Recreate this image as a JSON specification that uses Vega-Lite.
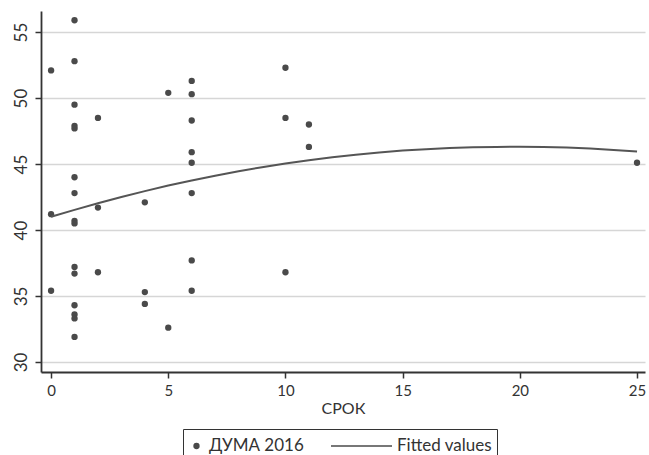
{
  "$schema": "https://vega.github.io/schema/vega-lite/v6.json",
  "autosize": "none",
  "width": 604,
  "height": 361,
  "padding": {"left": 41, "top": 11, "right": 4, "bottom": 83},
  "background": "white",
  "config": {
    "font": "Lato",
    "view": {"stroke": null},
    "axis": {"labelColor": "#333333", "titleColor": "#333333", "titleFontWeight": "normal", "domainColor": "#333333", "tickColor": "#333333", "domainWidth": 1.8, "tickWidth": 1.5, "tickSize": 6}
  },
  "layer": [
    {
      "data": {"values": [
        {"srok": 0, "duma": 52.1, "series": "ДУМА 2016"},
        {"srok": 0, "duma": 41.2, "series": "ДУМА 2016"},
        {"srok": 0, "duma": 35.4, "series": "ДУМА 2016"},
        {"srok": 1, "duma": 55.9, "series": "ДУМА 2016"},
        {"srok": 1, "duma": 52.8, "series": "ДУМА 2016"},
        {"srok": 1, "duma": 49.5, "series": "ДУМА 2016"},
        {"srok": 1, "duma": 47.9, "series": "ДУМА 2016"},
        {"srok": 1, "duma": 47.7, "series": "ДУМА 2016"},
        {"srok": 1, "duma": 44.0, "series": "ДУМА 2016"},
        {"srok": 1, "duma": 42.8, "series": "ДУМА 2016"},
        {"srok": 1, "duma": 40.7, "series": "ДУМА 2016"},
        {"srok": 1, "duma": 40.5, "series": "ДУМА 2016"},
        {"srok": 1, "duma": 37.2, "series": "ДУМА 2016"},
        {"srok": 1, "duma": 36.7, "series": "ДУМА 2016"},
        {"srok": 1, "duma": 34.3, "series": "ДУМА 2016"},
        {"srok": 1, "duma": 33.6, "series": "ДУМА 2016"},
        {"srok": 1, "duma": 33.3, "series": "ДУМА 2016"},
        {"srok": 1, "duma": 31.9, "series": "ДУМА 2016"},
        {"srok": 2, "duma": 48.5, "series": "ДУМА 2016"},
        {"srok": 2, "duma": 41.7, "series": "ДУМА 2016"},
        {"srok": 2, "duma": 36.8, "series": "ДУМА 2016"},
        {"srok": 4, "duma": 42.1, "series": "ДУМА 2016"},
        {"srok": 4, "duma": 35.3, "series": "ДУМА 2016"},
        {"srok": 4, "duma": 34.4, "series": "ДУМА 2016"},
        {"srok": 5, "duma": 50.4, "series": "ДУМА 2016"},
        {"srok": 5, "duma": 32.6, "series": "ДУМА 2016"},
        {"srok": 6, "duma": 51.3, "series": "ДУМА 2016"},
        {"srok": 6, "duma": 50.3, "series": "ДУМА 2016"},
        {"srok": 6, "duma": 48.3, "series": "ДУМА 2016"},
        {"srok": 6, "duma": 45.9, "series": "ДУМА 2016"},
        {"srok": 6, "duma": 45.1, "series": "ДУМА 2016"},
        {"srok": 6, "duma": 42.8, "series": "ДУМА 2016"},
        {"srok": 6, "duma": 37.7, "series": "ДУМА 2016"},
        {"srok": 6, "duma": 35.4, "series": "ДУМА 2016"},
        {"srok": 10, "duma": 52.3, "series": "ДУМА 2016"},
        {"srok": 10, "duma": 48.5, "series": "ДУМА 2016"},
        {"srok": 10, "duma": 36.8, "series": "ДУМА 2016"},
        {"srok": 11, "duma": 48.0, "series": "ДУМА 2016"},
        {"srok": 11, "duma": 46.3, "series": "ДУМА 2016"},
        {"srok": 25, "duma": 45.1, "series": "ДУМА 2016"}
      ]},
      "mark": {"type": "point", "filled": true, "opacity": 1, "color": "#4a4a4a"},
      "encoding": {
        "x": {"field": "srok", "type": "quantitative", "scale": {"domain": [-0.43, 25.34], "nice": false, "zero": false},
              "axis": {"values": [0, 5, 10, 15, 20, 25], "title": "СРОК", "grid": false, "labelFontSize": 15, "titleFontSize": 16, "labelPadding": 5, "titlePadding": 2}},
        "y": {"field": "duma", "type": "quantitative", "scale": {"domain": [29.24, 56.6], "nice": false, "zero": false},
              "axis": {"values": [30, 35, 40, 45, 50, 55], "title": null, "grid": true, "gridColor": "#d6d6d6", "gridWidth": 1.5, "labelAngle": -90, "labelAlign": "center", "labelBaseline": "bottom", "labelFontSize": 17, "labelPadding": 5}},
        "shape": {"field": "series", "type": "nominal", "scale": {"domain": ["ДУМА 2016", "Fitted values"], "range": ["circle", "M-1,-0.022L1,-0.022L1,0.022L-1,0.022Z"]},
                  "legend": {"title": null, "orient": "none", "legendX": 142, "legendY": 418, "direction": "horizontal", "strokeColor": "#333333", "padding": 5, "labelFontSize": 17, "labelColor": "#333333", "labelOffset": 4, "columnPadding": 26, "clipHeight": 24,
                             "encode": {"symbols": {"update": {"fill": {"value": "#4a4a4a"}, "opacity": {"value": 1}}}}}},
        "size": {"field": "series", "type": "nominal", "scale": {"type": "ordinal", "domain": ["ДУМА 2016", "Fitted values"], "range": [40, 3721]}, "legend": {"title": null}}
      }
    },
    {
      "data": {"values": [
        {"srok": 0, "fit": 41.00}, {"srok": 1, "fit": 41.53}, {"srok": 2, "fit": 42.03}, {"srok": 3, "fit": 42.51},
        {"srok": 4, "fit": 42.95}, {"srok": 5, "fit": 43.37}, {"srok": 6, "fit": 43.76}, {"srok": 7, "fit": 44.12},
        {"srok": 8, "fit": 44.46}, {"srok": 9, "fit": 44.76}, {"srok": 10, "fit": 45.04}, {"srok": 11, "fit": 45.29},
        {"srok": 12, "fit": 45.52}, {"srok": 13, "fit": 45.71}, {"srok": 14, "fit": 45.88}, {"srok": 15, "fit": 46.02},
        {"srok": 16, "fit": 46.13}, {"srok": 17, "fit": 46.21}, {"srok": 18, "fit": 46.27}, {"srok": 19, "fit": 46.30},
        {"srok": 20, "fit": 46.32}, {"srok": 21, "fit": 46.30}, {"srok": 22, "fit": 46.25}, {"srok": 23, "fit": 46.17},
        {"srok": 24, "fit": 46.07}, {"srok": 25, "fit": 45.95}
      ]},
      "mark": {"type": "line", "color": "#555555", "strokeWidth": 2},
      "encoding": {
        "x": {"field": "srok", "type": "quantitative"},
        "y": {"field": "fit", "type": "quantitative"}
      }
    }
  ]
}
